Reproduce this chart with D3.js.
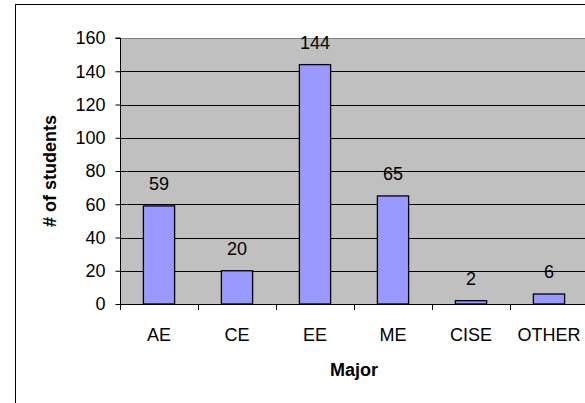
<!DOCTYPE html>
<html><head><meta charset="utf-8">
<script src="https://cdn.jsdelivr.net/npm/d3@7/dist/d3.min.js"></script>
<style>
html,body{margin:0;padding:0;background:#fff;overflow:hidden;}
text{font-family:"Liberation Sans",Arial,sans-serif;fill:#000;}
</style></head>
<body>
<script>
const categories = ["AE","CE","EE","ME","CISE","OTHER"];
const students = [59,20,144,65,2,6];
const yTicks = [0,20,40,60,80,100,120,140,160];
const xTitle = "Major";
const yTitle = "# of students";

const W = 585, H = 403;
const plot = {left:120, right:588, top:38, bottom:304};

const svg = d3.select("body").append("svg").attr("width",W).attr("height",H);

// outer chart border
svg.append("rect").attr("x",15.5).attr("y",4.5).attr("width",620).attr("height",430)
  .attr("fill","#fff").attr("stroke","#000").attr("stroke-width",1);

const x = d3.scaleBand().domain(categories).range([plot.left,plot.right]).padding(0);
const y = d3.scaleLinear().domain([0,160]).range([plot.bottom,plot.top]);

// plot background
svg.append("rect").attr("x",plot.left).attr("y",plot.top)
  .attr("width",plot.right-plot.left).attr("height",plot.bottom-plot.top)
  .attr("fill","#C0C0C0");

// gridlines
svg.append("g").selectAll("line").data(yTicks.filter(d=>d>0)).join("line")
  .attr("x1",plot.left).attr("x2",plot.right)
  .attr("y1",d=>Math.round(y(d))+0.5).attr("y2",d=>Math.round(y(d))+0.5)
  .attr("stroke",d=>d===160?"#808080":"#000").attr("stroke-width",1);

// bars
const bw = x.bandwidth()*0.4;
svg.append("g").selectAll("rect").data(students).join("rect")
  .attr("x",(d,i)=>x(categories[i])+x.bandwidth()/2-bw/2)
  .attr("y",d=>y(d))
  .attr("width",bw)
  .attr("height",d=>y(0)-y(d))
  .attr("fill","#9999FF").attr("stroke","#000").attr("stroke-width",1.3);

// data labels
svg.append("g").selectAll("text").data(students).join("text")
  .attr("x",(d,i)=>x(categories[i])+x.bandwidth()/2)
  .attr("y",d=>y(d)-16)
  .attr("text-anchor","middle").attr("font-size",18)
  .text(d=>d);

// y axis
const yAxis = d3.axisLeft(y).tickValues(yTicks).tickSize(5).tickPadding(10);
const gy = svg.append("g").attr("transform",`translate(${plot.left+0.5},0)`).call(yAxis);
gy.select(".domain").attr("stroke","#000").attr("d",`M-5,${plot.top}H0V${plot.bottom}`);
gy.selectAll(".tick line").attr("stroke","#000");
gy.selectAll(".tick text").attr("font-size",18).attr("font-family","Liberation Sans, Arial, sans-serif").attr("fill","#000");

// x axis baseline and ticks
svg.append("line").attr("x1",plot.left).attr("x2",plot.right)
  .attr("y1",plot.bottom+0.5).attr("y2",plot.bottom+0.5).attr("stroke","#000");
const boundaries = categories.map(c=>x(c)).concat([plot.right]);
svg.append("g").selectAll("line").data(boundaries).join("line")
  .attr("x1",d=>Math.round(d)+0.5).attr("x2",d=>Math.round(d)+0.5)
  .attr("y1",plot.bottom).attr("y2",plot.bottom+6).attr("stroke","#000");
svg.append("g").selectAll("text").data(categories).join("text")
  .attr("x",d=>x(d)+x.bandwidth()/2).attr("y",plot.bottom+37)
  .attr("text-anchor","middle").attr("font-size",18).text(d=>d);

// axis titles
svg.append("text").attr("x",(plot.left+plot.right)/2).attr("y",376)
  .attr("text-anchor","middle").attr("font-size",18).attr("font-weight","bold").text(xTitle);
svg.append("text").attr("transform",`translate(56,${(plot.top+plot.bottom)/2}) rotate(-90)`)
  .attr("text-anchor","middle").attr("font-size",18).attr("font-weight","bold").text(yTitle);
</script>
</body></html>
